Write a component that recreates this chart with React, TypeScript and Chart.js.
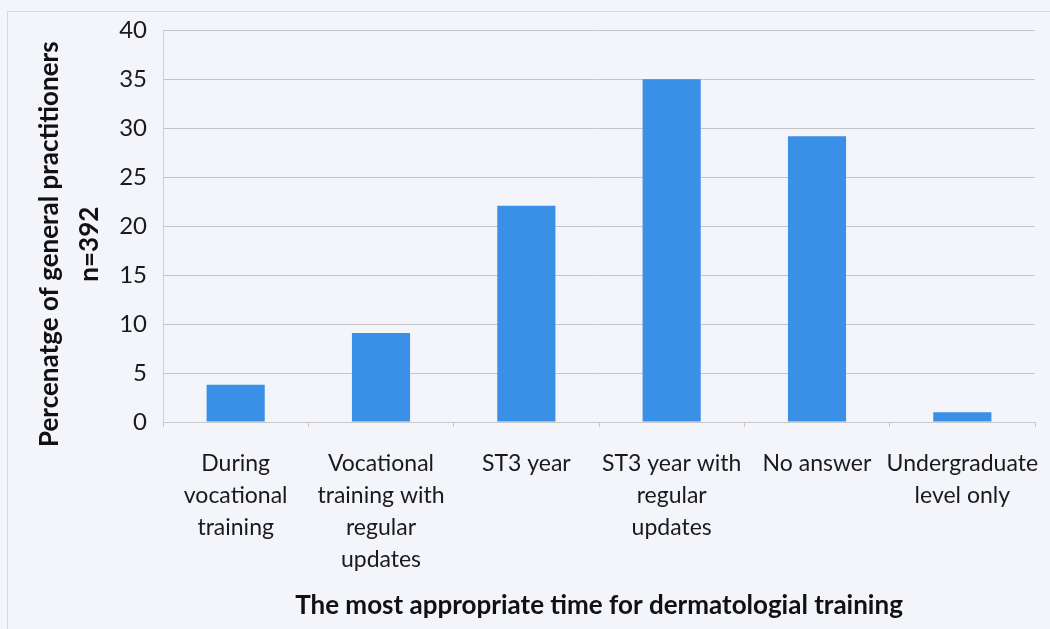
import React, { useEffect, useRef } from "react";
import { Chart, registerables } from "chart.js";

Chart.register(...registerables);

const categories: string[][] = [
  ["During", "vocational", "training"],
  ["Vocational", "training with", "regular", "updates"],
  ["ST3 year"],
  ["ST3 year with", "regular", "updates"],
  ["No answer"],
  ["Undergraduate", "level only"],
];
const percentages: number[] = [3.8, 9.1, 22.1, 35, 29.2, 1];
const yTitle: string[] = ["Percenatge of general practitioners", "n=392"];
const xTitle = "The most appropriate time for dermatologial training";

const FONT = "Lato, 'Open Sans', sans-serif";

export default function App() {
  const ref = useRef<HTMLCanvasElement | null>(null);

  useEffect(() => {
    document.body.style.margin = "0";
    const canvas = ref.current;
    if (!canvas) return;
    const chart = new Chart(canvas, {
      type: "bar",
      data: {
        labels: categories,
        datasets: [
          {
            data: percentages,
            backgroundColor: "#3a8fe6",
            borderWidth: 0,
            barPercentage: 0.4,
            categoryPercentage: 1,
          },
        ],
      },
      options: {
        responsive: false,
        animation: false,
        devicePixelRatio: 1,
        layout: { padding: { top: 30, right: 15, bottom: 0, left: 0 } },
        plugins: {
          legend: { display: false },
          tooltip: { enabled: false },
        },
        scales: {
          x: {
            afterFit: (scale: any) => {
              scale.height = 207;
              scale.paddingRight = 0;
            },
            grid: {
              display: true,
              drawOnChartArea: false,
              drawTicks: true,
              tickLength: 5,
              color: "#c8c8c8",
              offset: true,
            },
            border: { display: true, color: "#c8c8c8" },
            ticks: {
              color: "#1a1a1a",
              font: { family: FONT, size: 23, lineHeight: 1.4 },
              padding: 20,
              maxRotation: 0,
              minRotation: 0,
              autoSkip: false,
            },
            title: {
              display: true,
              text: xTitle,
              color: "#111",
              font: { family: FONT, size: 26, weight: "bold", lineHeight: 1.2 },
              padding: { top: 10, bottom: 8 },
            },
          },
          y: {
            min: 0,
            max: 40,
            afterFit: (scale: any) => {
              scale.width = 163;
            },
            grid: { color: "#c6c6c6", drawTicks: false, lineWidth: 1 },
            border: { display: true, color: "#d0d0d0" },
            ticks: {
              stepSize: 5,
              color: "#1a1a1a",
              font: { family: FONT, size: 24 },
              padding: 16,
            },
            title: { display: false },
          },
        },
      },
      plugins: [
        {
          id: "bg",
          beforeDraw: (c: any) => {
            const ctx = c.ctx;
            ctx.save();
            ctx.fillStyle = "#f3f5fb";
            ctx.fillRect(0, 0, c.width, c.height);
            ctx.strokeStyle = "#d6d8de";
            ctx.lineWidth = 1;
            ctx.strokeRect(7.5, 11.5, c.width, c.height);
            ctx.restore();
          },
        },
        {
          id: "yTitle",
          afterDraw: (c: any) => {
            const ctx = c.ctx;
            const area = c.chartArea;
            const cy = (area.top + area.bottom) / 2 + 18;
            ctx.save();
            ctx.fillStyle = "#111";
            ctx.font = `bold 26px ${FONT}`;
            ctx.textAlign = "center";
            ctx.textBaseline = "middle";
            yTitle.forEach((line, i) => {
              ctx.save();
              ctx.translate(50 + i * 40, cy);
              ctx.rotate(-Math.PI / 2);
              ctx.fillText(line, 0, 0);
              ctx.restore();
            });
            ctx.restore();
          },
        },
      ],
    } as any);
    return () => chart.destroy();
  }, []);

  return (
    <div style={{ width: 1050, height: 629 }}>
      <canvas ref={ref} width={1050} height={629} style={{ display: "block" }} />
    </div>
  );
}
